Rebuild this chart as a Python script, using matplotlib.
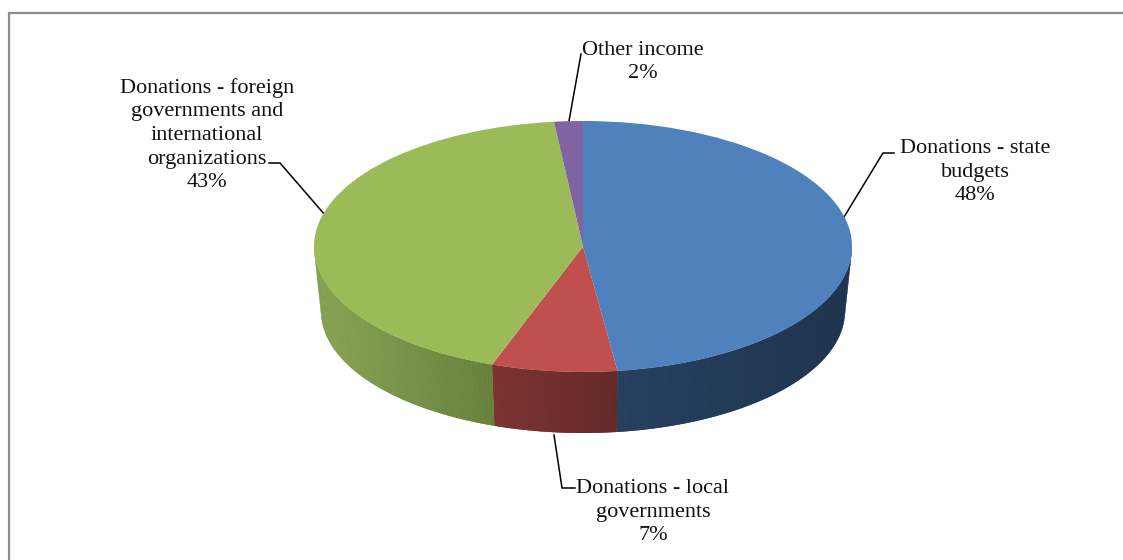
import numpy as np
import matplotlib
matplotlib.use("Agg")
import matplotlib.pyplot as plt
from matplotlib.collections import PolyCollection
from matplotlib.colors import to_rgb

# shares as drawn (the 3D view skews them a little from the printed percents)
categories = ["Donations - state\nbudgets", "Donations - local\ngovernments",
              "Donations - foreign\ngovernments and\ninternational\norganizations",
              "Other income"]
shares = [47.95, 7.54, 42.79, 1.72]
pct_labels = ["48%", "7%", "43%", "2%"]
top_colors = ["#4f81bd", "#c0504d", "#9bbb59", "#8064a2"]
# side wall colours, left end -> right end of each slice
side_left = ["#27405f", "#7d3432", "#8aa556", "#4d3c62"]
side_right = ["#1f344f", "#632a29", "#68803c", "#4d3c62"]

W, H = 1123, 560
CX, CY, RX, RY = 583, 246.5, 269, 125.5
BCY, BRX, BRY = 311, 262, 122

plt.rcParams["font.family"] = ["Liberation Serif", "DejaVu Serif"]
fig = plt.figure(figsize=(W / 100, H / 100), dpi=100)
ax = fig.add_axes([0, 0, 1, 1])
ax.set_xlim(0, W)
ax.set_ylim(H, 0)
ax.axis("off")

# frame: only the top and left edges show in the crop
ax.plot([8.5, 8.5, W], [H, 12.5, 12.5], color="#8c8c8c", lw=1.6, solid_joinstyle="miter")

# side wall: solid base per slice, then thin gradient quads between the rims
start = 90.0
polys, cols = [], []
for share, cl, cr in zip(shares, side_left, side_right):
    end = start - share * 3.6
    lo, hi = max(end, -180.0), min(start, 0.0)
    if lo < hi:
        th = np.radians(np.linspace(lo, hi, 60))
        xt = CX + RX * np.cos(th)
        yt = CY - RY * np.sin(th)
        xb = CX + BRX * np.cos(th)
        yb = BCY - BRY * np.sin(th)
        c0, c1 = np.array(to_rgb(cl)), np.array(to_rgb(cr))
        ax.fill(np.r_[xt, xb[::-1]], np.r_[yt, yb[::-1]], color=tuple((c0 + c1) / 2), lw=0)
        span = xt.max() - xt.min()
        for i in range(len(th) - 1):
            t = (0.5 * (xt[i] + xt[i + 1]) - xt.min()) / span
            polys.append([(xt[i], yt[i]), (xt[i + 1], yt[i + 1]),
                          (xb[i + 1], yb[i + 1]), (xb[i], yb[i])])
            cols.append(tuple((1 - t) * c0 + t * c1))
    start = end
ax.add_collection(PolyCollection(polys, facecolors=cols, edgecolors="none"))

# top face: a real pie in an axes squashed to the ellipse (pie limits are +-1.25)
px = 1.25 * RX
py = 1.25 * RY
ax_top = fig.add_axes([(CX - px) / W, 1 - (CY + py) / H, 2 * px / W, 2 * py / H])
ax_top.patch.set_alpha(0)
ax_top.pie(shares, colors=top_colors, startangle=90, counterclock=False)
ax_top.set_aspect("auto")

# leader lines
leaders = [
    ([844, 883, 894], [217, 153, 153]),
    ([554, 562, 575], [435, 488, 488]),
    ([325, 280, 269], [215, 163, 163]),
    ([569, 581], [121, 54]),
]
for xs, ys in leaders:
    ax.plot(xs, ys, color="black", lw=1.1, solid_joinstyle="miter")

label_pos = [(975, 172), (653, 512), (207, 135), (643, 62)]
for cat, pct, (x, y) in zip(categories, pct_labels, label_pos):
    ax.text(x, y, cat + "\n" + pct, ha="center", va="center", fontsize=16,
            linespacing=1.33, color="#111111")

fig.savefig("out.png", dpi=100)
